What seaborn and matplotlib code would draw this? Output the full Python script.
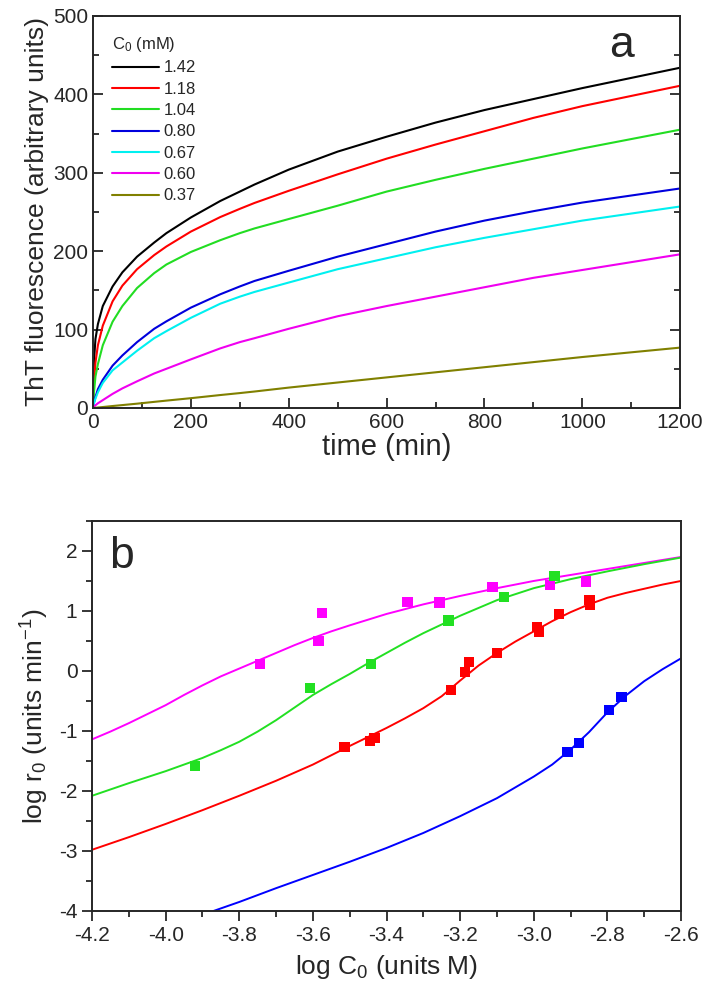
import numpy as np
import pandas as pd
import seaborn as sns
import matplotlib.pyplot as plt
from matplotlib.ticker import MultipleLocator, FormatStrFormatter

# ---- panel a: ThT fluorescence kinetics ----
time_min = [0, 2, 5, 10, 20, 40, 60, 90, 125, 150, 200, 260, 300, 330, 400, 500,
            600, 700, 800, 900, 1000, 1100, 1200]
conc_labels = ["1.42", "1.18", "1.04", "0.80", "0.67", "0.60", "0.37"]
tht_142 = [0, 60, 88, 107, 130, 155, 173, 193, 211, 223, 243, 264, 276, 285, 304, 327,
           346, 364, 380, 394, 408, 421, 434]
tht_118 = [0, 35, 58, 80, 105, 136, 156, 177, 195, 206, 225, 243.5, 254, 261.5, 277, 298,
           318, 336, 353, 370, 385, 398, 411]
tht_104 = [0, 20, 40, 56, 80, 110, 130, 153, 172, 183, 199, 214, 223, 229, 241, 258,
           276, 291, 305, 318, 331, 343, 355]
tht_080 = [0, 7, 14, 24, 36, 54, 67, 84, 101, 110.5, 128, 145, 155, 162, 175, 193,
           209, 225, 239, 251, 262, 271, 280]
tht_067 = [0, 6, 12, 20, 32, 48, 58, 73, 89, 98, 115, 133, 142, 148, 160, 177,
           191, 205, 217, 228, 239, 248, 257]
tht_060 = [0, 1.5, 3.5, 6, 10, 18, 25, 34, 44, 50, 62, 76, 84, 89, 101, 117,
           130, 142, 154, 166, 176, 186, 196]
tht_037 = [0, 0.1, 0.3, 0.6, 1.2, 2.5, 3.7, 5.5, 7.8, 9.4, 12.5, 16.5, 19, 21, 26, 32.5,
           39, 45.5, 52, 58.5, 65, 71, 77]
tht_colors = ["#000000", "#FF0000", "#22DD22", "#0000DD", "#00F0F0", "#F000F0", "#808000"]

# ---- panel b: initial rate vs concentration ----
fit_magenta_x = [-4.2, -4.15, -4.1, -4.05, -4.0, -3.95, -3.9, -3.85, -3.8, -3.75, -3.7,
                 -3.65, -3.6, -3.55, -3.5, -3.4, -3.3, -3.2, -3.1, -3.0, -2.9, -2.8,
                 -2.7, -2.6]
fit_magenta = [-1.14, -1.01, -0.87, -0.72, -0.57, -0.40, -0.24, -0.09, 0.04, 0.17, 0.30,
               0.43, 0.55, 0.66, 0.76, 0.95, 1.11, 1.25, 1.38, 1.50, 1.60, 1.70,
               1.80, 1.90]
fit_green_x = [-4.2, -4.1, -4.0, -3.9, -3.85, -3.8, -3.75, -3.7, -3.65, -3.6, -3.55,
               -3.5, -3.45, -3.4, -3.35, -3.3, -3.2, -3.1, -3.0, -2.9, -2.8, -2.7, -2.6]
fit_green = [-2.08, -1.87, -1.67, -1.45, -1.32, -1.18, -1.01, -0.82, -0.61, -0.40, -0.22,
             -0.05, 0.13, 0.30, 0.47, 0.63, 0.92, 1.18, 1.38, 1.53, 1.66, 1.78, 1.89]
fit_red_x = [-4.2, -4.1, -4.0, -3.9, -3.8, -3.7, -3.6, -3.5, -3.45, -3.4, -3.35,
             -3.3, -3.25, -3.2, -3.15, -3.1, -3.05, -3.0, -2.95, -2.9, -2.85, -2.8,
             -2.75, -2.7, -2.65, -2.6]
fit_red = [-2.98, -2.77, -2.55, -2.32, -2.08, -1.83, -1.56, -1.25, -1.10, -0.95,
           -0.79, -0.62, -0.42, -0.16, 0.09, 0.30, 0.49, 0.66, 0.83, 0.98, 1.11, 1.22,
           1.30, 1.37, 1.44, 1.50]
fit_blue_x = [-3.87, -3.8, -3.7, -3.6, -3.5, -3.4, -3.3, -3.2, -3.1, -3.0, -2.95,
              -2.9, -2.85, -2.8, -2.75, -2.7, -2.65, -2.6]
fit_blue = [-4.0, -3.85, -3.62, -3.40, -3.18, -2.95, -2.70, -2.42, -2.12, -1.76,
            -1.56, -1.31, -1.02, -0.69, -0.41, -0.17, 0.03, 0.21]

pts_magenta_x = [-3.743, -3.585, -3.576, -3.343, -3.256, -3.112, -2.955, -2.859]
pts_magenta_y = [0.12, 0.50, 0.97, 1.145, 1.14, 1.405, 1.43, 1.49]
pts_green_x = [-3.92, -3.608, -3.443, -3.232, -3.08, -2.944]
pts_green_y = [-1.58, -0.28, 0.117, 0.84, 1.23, 1.58]
pts_red_x = [-3.514, -3.445, -3.433, -3.224, -3.187, -3.176, -3.10, -2.992,
             -2.985, -2.931, -2.849, -2.847]
pts_red_y = [-1.27, -1.17, -1.12, -0.32, -0.02, 0.155, 0.295, 0.73, 0.655,
             0.95, 1.18, 1.10]
pts_blue_x = [-2.908, -2.877, -2.795, -2.762]
pts_blue_y = [-1.345, -1.195, -0.65, -0.43]
b_series = ["magenta", "green", "red", "blue"]
b_colors = ["#FF00FF", "#22E022", "#FF0000", "#0000FF"]

sns.set_style("ticks")
plt.rcParams['font.family'] = ['Liberation Sans', 'DejaVu Sans']
plt.rcParams['mathtext.fontset'] = 'custom'
plt.rcParams['mathtext.rm'] = 'Liberation Sans'
plt.rcParams['mathtext.it'] = 'Liberation Sans:italic'
plt.rcParams['mathtext.default'] = 'regular'
plt.rcParams['axes.unicode_minus'] = False
plt.rcParams['axes.linewidth'] = 1.4

fig = plt.figure(figsize=(7.1, 9.98), dpi=100)
ax1 = fig.add_axes([0.131, 0.5912, 0.827, 0.3928])
ax2 = fig.add_axes([0.1296, 0.0872, 0.8296, 0.3908])

# panel a
curves = [tht_142, tht_118, tht_104, tht_080, tht_067, tht_060, tht_037]
df_a = pd.concat([pd.DataFrame({"time": time_min, "signal": c, "conc": lab})
                  for c, lab in zip(curves, conc_labels)])
sns.lineplot(data=df_a, x="time", y="signal", hue="conc", hue_order=conc_labels,
             palette=tht_colors, estimator=None, sort=False, lw=1.5, ax=ax1)
ax1.set_xlim(0, 1200)
ax1.set_ylim(0, 500)
ax1.xaxis.set_major_locator(MultipleLocator(200))
ax1.xaxis.set_minor_locator(MultipleLocator(100))
ax1.yaxis.set_major_locator(MultipleLocator(100))
ax1.yaxis.set_minor_locator(MultipleLocator(50))
ax1.tick_params(which='both', direction='in', right=True, top=False, width=1.3,
                labelsize=15)
ax1.tick_params(which='major', length=7)
ax1.tick_params(which='minor', length=4)
ax1.set_xlabel("time (min)", fontsize=21, labelpad=1)
ax1.set_ylabel("ThT fluorescence (arbitrary units)", fontsize=19, labelpad=3)
ax1.text(0.9, 0.925, "a", transform=ax1.transAxes, fontsize=32, ha='center', va='center')
leg = ax1.legend(title="C$_0$ (mM)", loc='upper left', frameon=False, fontsize=12,
                 title_fontsize=12, handlelength=2.8, handletextpad=0.3,
                 labelspacing=0.38, borderaxespad=0.75, alignment='left')

# panel b
df_fit = pd.concat([
    pd.DataFrame({"logC": fit_magenta_x, "logr": fit_magenta, "series": "magenta"}),
    pd.DataFrame({"logC": fit_green_x, "logr": fit_green, "series": "green"}),
    pd.DataFrame({"logC": fit_red_x, "logr": fit_red, "series": "red"}),
    pd.DataFrame({"logC": fit_blue_x, "logr": fit_blue, "series": "blue"}),
])
df_pts = pd.concat([
    pd.DataFrame({"logC": pts_magenta_x, "logr": pts_magenta_y, "series": "magenta"}),
    pd.DataFrame({"logC": pts_green_x, "logr": pts_green_y, "series": "green"}),
    pd.DataFrame({"logC": pts_red_x, "logr": pts_red_y, "series": "red"}),
    pd.DataFrame({"logC": pts_blue_x, "logr": pts_blue_y, "series": "blue"}),
])
sns.lineplot(data=df_fit, x="logC", y="logr", hue="series", hue_order=b_series,
             palette=b_colors, estimator=None, sort=False, lw=1.4, legend=False, ax=ax2)
sns.scatterplot(data=df_pts, x="logC", y="logr", hue="series", hue_order=b_series,
                palette=b_colors, marker='s', s=55, linewidth=0, legend=False,
                ax=ax2, zorder=3)
ax2.set_xlim(-4.2, -2.6)
ax2.set_ylim(-4, 2.5)
ax2.xaxis.set_major_locator(MultipleLocator(0.2))
ax2.xaxis.set_minor_locator(MultipleLocator(0.1))
ax2.xaxis.set_major_formatter(FormatStrFormatter('%.1f'))
ax2.yaxis.set_major_locator(MultipleLocator(1))
ax2.yaxis.set_minor_locator(MultipleLocator(0.5))
ax2.tick_params(which='both', direction='out', width=1.3, labelsize=15)
ax2.tick_params(which='major', length=7)
ax2.tick_params(which='minor', length=4)
ax2.set_xlabel("log C$_0$ (units M)", fontsize=19, labelpad=6)
ax2.set_ylabel("log r$_0$ (units min$^{-1}$)", fontsize=19, labelpad=6)
ax2.text(0.05, 0.91, "b", transform=ax2.transAxes, fontsize=32, ha='center', va='center')

fig.savefig("out.png", dpi=100)
